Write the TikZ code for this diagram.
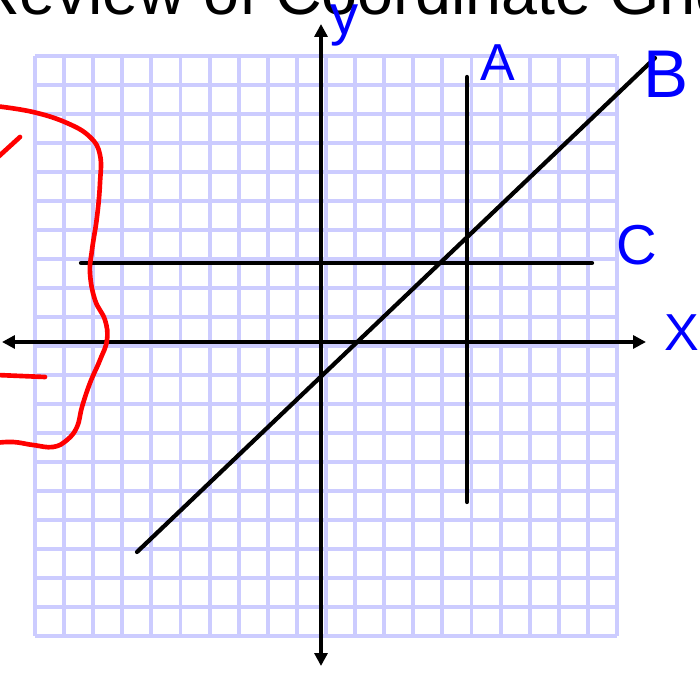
\documentclass[tikz,border=0pt]{standalone}
\usepackage{fontspec}
\setmainfont{Liberation Sans}
\usetikzlibrary{arrows.meta}
\definecolor{gridblue}{RGB}{204,204,255}
\definecolor{penblue}{RGB}{0,0,255}
\definecolor{penred}{RGB}{255,0,0}

\begin{document}
\begin{tikzpicture}[
        x=0.025cm, y=-0.025cm,
        gridline/.style = {draw=gridblue, line width=2.8pt},
        axis/.style = {draw, line width=3pt, {Triangle[length=0.32cm, width=0.32cm]}-{Triangle[length=0.32cm, width=0.32cm]}},
        graphline/.style = {draw, line width=3pt, line cap=round},
        handlabel/.style = {text=penblue, inner sep=0pt},
        redpen/.style = {draw=penred, line width=3.3pt, line cap=round, line join=round}
    ]
    \useasboundingbox (0,0) rectangle (700,675);
    \clip (0,0) rectangle (700,675);

    % Title (cut off by the page)
    \node [anchor=base west, inner sep=0pt, font=\fontsize{46}{52}\selectfont] (title) at (-27,14.5) {Review of Coordinate Grid};

    % Grid
    \foreach \i in {0,...,20} {
        \path [gridline] ({35+29.1*\i},56) -- ({35+29.1*\i},636);
        \path [gridline] (35,{56+29*\i}) -- (617,{56+29*\i});
    }

    % End points
    \coordinate (ytop) at (321,24);
    \coordinate (ybot) at (321,666);
    \coordinate (xleft) at (2,342);
    \coordinate (xright) at (646,342);
    \coordinate (atop) at (467,77);
    \coordinate (abot) at (467,502);
    \coordinate (cleft) at (81,263);
    \coordinate (cright) at (592,263);
    \coordinate (bbot) at (137,552);
    \coordinate (btop) at (655,58);

    % Axes
    \path [axis] (ybot) -- (ytop);
    \path [axis] (xleft) -- (xright);

    % Lines
    \path [graphline] (atop) -- (abot);
    \path [graphline] (cleft) -- (cright);
    \path [graphline] (bbot) -- (btop);

    % Red marks
    \path [redpen] plot [smooth, tension=0.7] coordinates {(-5,106) (33,112) (67,123) (90,137) (100,155) (100,183) (97,217) (92,250) (90,273) (95,300) (105,320) (107,340) (100,360) (90,383) (82,407) (77,427) (67,440) (53,447) (33,445) (13,442) (-5,443)};
    \path [redpen] (-3,158) .. controls (8,148) .. (20,137);
    \path [redpen] (-3,375) -- (45,377);

    % Labels
    \node [handlabel, font=\fontsize{40}{40}\selectfont] (ylab) at (345,25) {y};
    \node [handlabel, font=\fontsize{37}{37}\selectfont] (alab) at (498,63) {A};
    \node [handlabel, font=\fontsize{48}{48}\selectfont] (blab) at (666,74) {B};
    \node [handlabel, font=\fontsize{40}{40}\selectfont] (clab) at (637,245) {C};
    \node [handlabel, font=\fontsize{37}{37}\selectfont] (xlab) at (682,333) {X};

\end{tikzpicture}
\end{document}
